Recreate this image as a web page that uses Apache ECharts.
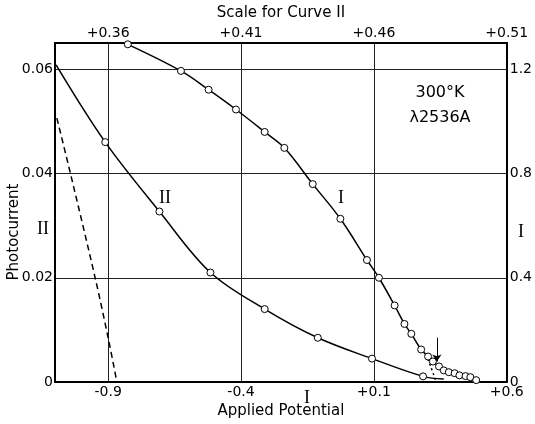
<!DOCTYPE html>
<html>
<head>
<meta charset="utf-8">
<script src="https://cdn.jsdelivr.net/npm/echarts@6/dist/echarts.min.js"></script>
<style>
  html, body { margin: 0; padding: 0; background: #fff; }
  #chart { width: 535px; height: 424px; }
</style>
</head>
<body>
<div id="chart"></div>
<script>
// 刻度
var bottomTicks = [-0.9, -0.4, 0.1, 0.6];
var topTicks = [0.36, 0.41, 0.46, 0.51];
var leftTicks = [0, 0.02, 0.04, 0.06];
var rightTicks = [0, 0.4, 0.8, 1.2];

// curve I : applied potential (bottom) / photocurrent (right scale)
var potI = [-0.826, -0.626, -0.522, -0.419, -0.311, -0.237, -0.130, -0.026, 0.074, 0.119,
  0.178, 0.215, 0.241, 0.278, 0.304, 0.322, 0.345, 0.363, 0.382, 0.404, 0.422, 0.445,
  0.463, 0.485, 0.504];
var curI = [1.295, 1.193, 1.121, 1.045, 0.959, 0.898, 0.759, 0.626, 0.468, 0.400,
  0.294, 0.223, 0.185, 0.125, 0.098, 0.079, 0.060, 0.045, 0.038, 0.034, 0.026, 0.023,
  0.019, 0.0075, 0];
var bareI = [24]; // points drawn without circle

// curve I dotted extrapolation
var potIdot = [0.296, 0.315, 0.333];
var curIdot = [0.106, 0.057, 0.004];

// arrow on curve I
var arrowPot = 0.337;
var arrowFrom = 0.170;
var arrowTo = 0.079;

// curve II : scale for curve II (top) / photocurrent (left scale)
var potII = [0.3404, 0.3589, 0.3793, 0.3985, 0.4189, 0.4389, 0.4593, 0.4785, 0.4863];
var curII = [0.0608, 0.0460, 0.0327, 0.0210, 0.0140, 0.0085, 0.0045, 0.0011, 0.0006];
var bareII = [0, 8];

// dashed curve
var potIIdash = [0.3407, 0.3459, 0.3552, 0.3600, 0.3633];
var curIIdash = [0.0506, 0.0398, 0.0198, 0.0085, 0];

var FONT = "DejaVu Sans";
var SERIF = "Liberation Serif";

function pairs(xs, ys, bare) {
  return xs.map(function (x, i) {
    var item = { value: [x, ys[i]] };
    if (bare && bare.indexOf(i) >= 0) item.symbol = "none";
    return item;
  });
}

function fmtSigned(v) {
  if (v > 0) return "+" + v;
  return String(v);
}

var axisLine = { show: true, onZero: false, lineStyle: { color: "#000", width: 2 } };
var labelStyle = { color: "#000", fontSize: 14, fontFamily: FONT };

var myChart = echarts.init(document.getElementById("chart"));

myChart.setOption({
  animation: false,
  backgroundColor: "#fff",
  grid: { left: 55, right: 22, top: 43, bottom: 36, show: false },
  xAxis: [
    {
      type: "value",
      position: "bottom",
      min: -1.1,
      max: 0.6,
      axisLine: axisLine,
      axisTick: { show: false, customValues: bottomTicks },
      axisLabel: Object.assign({ customValues: bottomTicks, margin: 3, formatter: fmtSigned }, labelStyle),
      splitLine: { show: true, lineStyle: { color: "#222", width: 1 } },
      name: "Applied Potential",
      nameLocation: "middle",
      nameGap: 15,
      nameTextStyle: { color: "#000", fontSize: 15, fontFamily: FONT }
    },
    {
      type: "value",
      position: "top",
      min: 0.34,
      max: 0.51,
      axisLine: axisLine,
      axisTick: { show: false, customValues: topTicks },
      axisLabel: Object.assign({
        customValues: topTicks, margin: 3,
        formatter: function (v) { return "+" + v.toFixed(2); }
      }, labelStyle),
      splitLine: { show: false },
      name: "Scale for Curve II",
      nameLocation: "middle",
      nameGap: 18,
      nameTextStyle: { color: "#000", fontSize: 15, fontFamily: FONT }
    }
  ],
  yAxis: [
    {
      type: "value",
      position: "left",
      min: 0,
      max: 0.065,
      axisLine: axisLine,
      axisTick: { show: false, customValues: leftTicks },
      axisLabel: Object.assign({
        customValues: leftTicks, margin: 2,
        formatter: function (v) { return v === 0 ? "0" : v.toFixed(2); }
      }, labelStyle),
      splitLine: { show: true, lineStyle: { color: "#222", width: 1 } }
    },
    {
      type: "value",
      position: "right",
      min: 0,
      max: 1.3,
      axisLine: axisLine,
      axisTick: { show: false, customValues: rightTicks },
      axisLabel: Object.assign({
        customValues: rightTicks, margin: 3,
        formatter: function (v) { return v === 0 ? "0" : v.toFixed(1); }
      }, labelStyle),
      splitLine: { show: false }
    }
  ],
  series: [
    {
      name: "I dotted",
      type: "line",
      xAxisIndex: 0,
      yAxisIndex: 1,
      data: pairs(potIdot, curIdot),
      showSymbol: false,
      smooth: 0.3,
      lineStyle: { color: "#000", width: 1.5, type: [2, 3] },
      z: 2
    },
    {
      name: "II dashed",
      type: "line",
      xAxisIndex: 1,
      yAxisIndex: 0,
      data: pairs(potIIdash, curIIdash),
      showSymbol: false,
      smooth: 0.3,
      lineStyle: { color: "#000", width: 1.5, type: [6, 4] },
      z: 2
    },
    {
      name: "I",
      type: "line",
      xAxisIndex: 0,
      yAxisIndex: 1,
      data: pairs(potI, curI, bareI),
      smooth: 0.35,
      symbol: "circle",
      symbolSize: 7,
      lineStyle: { color: "#000", width: 1.5 },
      itemStyle: { color: "#fff", borderColor: "#000", borderWidth: 1 },
      markLine: {
        silent: true,
        symbol: ["none", "arrow"],
        symbolSize: 7,
        label: { show: false },
        lineStyle: { color: "#000", width: 1, type: "solid" },
        data: [[{ coord: [arrowPot, arrowFrom] }, { coord: [arrowPot, arrowTo] }]]
      },
      z: 3
    },
    {
      name: "II",
      type: "line",
      xAxisIndex: 1,
      yAxisIndex: 0,
      data: pairs(potII, curII, bareII),
      smooth: 0.35,
      symbol: "circle",
      symbolSize: 7,
      lineStyle: { color: "#000", width: 1.5 },
      itemStyle: { color: "#fff", borderColor: "#000", borderWidth: 1 },
      z: 3
    }
  ],
  graphic: [
    { type: "text", x: 14, y: 232, rotation: Math.PI / 2,
      style: { text: "Photocurrent", fill: "#000", font: "15px " + FONT, textAlign: "center", textVerticalAlign: "middle" } },
    { type: "text", x: 43, y: 229,
      style: { text: "II", fill: "#000", font: "18px " + SERIF, textAlign: "center", textVerticalAlign: "middle" } },
    { type: "text", x: 521, y: 232,
      style: { text: "I", fill: "#000", font: "18px " + SERIF, textAlign: "center", textVerticalAlign: "middle" } },
    { type: "text", x: 307, y: 398,
      style: { text: "I", fill: "#000", font: "18px " + SERIF, textAlign: "center", textVerticalAlign: "middle" } },
    { type: "text", x: 165, y: 198,
      style: { text: "II", fill: "#000", font: "18px " + SERIF, textAlign: "center", textVerticalAlign: "middle" } },
    { type: "text", x: 341, y: 198,
      style: { text: "I", fill: "#000", font: "18px " + SERIF, textAlign: "center", textVerticalAlign: "middle" } },
    { type: "text", x: 440, y: 93,
      style: { text: "300°K", fill: "#000", font: "16px " + FONT, textAlign: "center", textVerticalAlign: "middle" } },
    { type: "text", x: 440, y: 118,
      style: { text: "λ2536A", fill: "#000", font: "16px " + FONT, textAlign: "center", textVerticalAlign: "middle" } }
  ]
});
</script>
</body>
</html>
